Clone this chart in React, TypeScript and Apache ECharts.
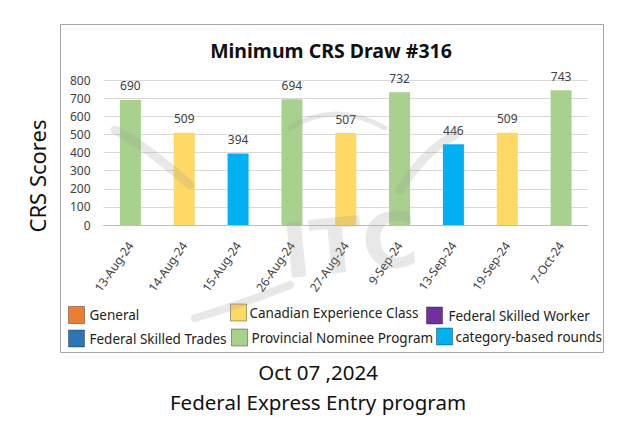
import React, { useEffect, useRef } from "react";
import * as echarts from "echarts";

const dates = ["13-Aug-24", "14-Aug-24", "15-Aug-24", "26-Aug-24", "27-Aug-24", "9-Sep-24", "13-Sep-24", "19-Sep-24", "7-Oct-24"];
const scores = [690, 509, 394, 694, 507, 732, 446, 509, 743];
const drawTypes = [
  "Provincial Nominee Program",
  "Canadian Experience Class",
  "category-based rounds",
  "Provincial Nominee Program",
  "Canadian Experience Class",
  "Provincial Nominee Program",
  "category-based rounds",
  "Canadian Experience Class",
  "Provincial Nominee Program",
];
const programs = [
  "General",
  "Canadian Experience Class",
  "Federal Skilled Worker",
  "Federal Skilled Trades",
  "Provincial Nominee Program",
  "category-based rounds",
];
const programColors = ["#ED7D31", "#FFD966", "#7030A0", "#2E75B6", "#A9D18E", "#00B0F0"];
const titleText = "Minimum CRS Draw #316";
const yName = "CRS Scores";
const footer1 = "Oct 07 ,2024";
const footer2 = "Federal Express Entry program";

const FONT = "'Noto Sans', 'Open Sans', sans-serif";
const WM = "rgba(150,150,150,0.22)";

export default function App() {
  const ref = useRef<HTMLDivElement>(null);
  useEffect(() => {
    if (!ref.current) return;
    const chart = echarts.init(ref.current, null, { renderer: "svg" });
    const series = programs.map((p, i) => ({
      type: "bar",
      name: p,
      stack: "all",
      barWidth: "39%",
      itemStyle: { color: programColors[i] },
      label: {
        show: true,
        position: "top",
        distance: 8,
        color: "#404040",
        fontSize: 12,
        fontFamily: FONT,
      },
      data: scores.map((v, j) => (drawTypes[j] === p ? v : "-")),
    }));
    const legendPos = [
      { left: 68, top: 306, gap: 5 },
      { left: 230, top: 303.5, gap: 3 },
      { left: 426, top: 306.5, gap: 6 },
      { left: 68, top: 329.5, gap: 5 },
      { left: 231, top: 328.5, gap: 4 },
      { left: 436, top: 327.5, gap: 3 },
    ];
    const legends = programs.map((p, i) => ({
      data: [p],
      left: legendPos[i].left,
      top: legendPos[i].top,
      padding: 0,
      itemWidth: 16,
      itemHeight: 17,
      itemGap: 0,
      selectedMode: false,
      icon: "rect",
      itemStyle: { borderColor: "rgba(0,0,0,0.35)", borderWidth: 1 },
      textStyle: { fontSize: 13.5, color: "#222", fontFamily: FONT, padding: [0, 0, 0, legendPos[i].gap - 5] },
    }));
    chart.setOption({
      animation: false,
      backgroundColor: "#ffffff",
      grid: { left: 103.5, right: 42, top: 80, bottom: 205 },
      legend: legends,
      xAxis: {
        type: "category",
        data: dates,
        axisLine: { lineStyle: { color: "#BFBFBF" } },
        axisTick: { show: false },
        axisLabel: { rotate: 55, fontSize: 12, color: "#404040", fontFamily: FONT, margin: 18, interval: 0 },
      },
      yAxis: {
        type: "value",
        min: 0,
        max: 800,
        interval: 100,
        axisLine: { show: false },
        axisTick: { show: false },
        axisLabel: { fontSize: 12, color: "#404040", fontFamily: FONT, margin: 13 },
        splitLine: { lineStyle: { color: "#D9D9D9" } },
      },
      series,
      graphic: [
        {
          type: "rect",
          shape: { x: 60.5, y: 24.5, width: 543, height: 328 },
          style: { fill: "none", stroke: "#A6A6A6", lineWidth: 1 },
          z: 0,
          silent: true,
        },
        {
          type: "text",
          x: 331,
          y: 50,
          style: { text: titleText, fontSize: 19.5, fontWeight: "bold", fill: "#111", fontFamily: FONT, align: "center", verticalAlign: "middle" },
        },
        {
          type: "text",
          x: 37,
          y: 176,
          rotation: Math.PI / 2,
          style: { text: yName, fontSize: 22, fill: "#111", fontFamily: FONT, align: "center", verticalAlign: "middle" },
        },
        {
          type: "text",
          x: 350,
          y: 245,
          rotation: 0.1,
          z: 100,
          silent: true,
          style: { text: "ITC", fontSize: 76, fontWeight: "bold", fill: WM, fontFamily: "'DejaVu Sans', sans-serif", align: "center", verticalAlign: "middle" },
        },
        {
          type: "bezierCurve",
          z: 100,
          silent: true,
          shape: { x1: 115, y1: 130, cpx1: 145, cpy1: 145, x2: 190, y2: 185 },
          style: { stroke: WM, lineWidth: 9, lineCap: "round", fill: "none" },
        },
        {
          type: "bezierCurve",
          z: 100,
          silent: true,
          shape: { x1: 455, y1: 135, cpx1: 425, cpy1: 150, x2: 400, y2: 190 },
          style: { stroke: WM, lineWidth: 9, lineCap: "round", fill: "none" },
        },
        {
          type: "bezierCurve",
          z: 100,
          silent: true,
          shape: { x1: 290, y1: 128, cpx1: 335, cpy1: 100, x2: 385, y2: 128 },
          style: { stroke: WM, lineWidth: 5, lineCap: "round", fill: "none" },
        },
        {
          type: "bezierCurve",
          z: 100,
          silent: true,
          shape: { x1: 195, y1: 318, cpx1: 240, cpy1: 305, x2: 290, y2: 285 },
          style: { stroke: WM, lineWidth: 8, lineCap: "round", fill: "none" },
        },
        {
          type: "text",
          x: 318,
          y: 372,
          style: { text: footer1, fontSize: 20.5, fill: "#111", fontFamily: FONT, align: "center", verticalAlign: "middle" },
        },
        {
          type: "text",
          x: 318,
          y: 402,
          style: { text: footer2, fontSize: 20.5, fill: "#111", fontFamily: FONT, align: "center", verticalAlign: "middle" },
        },
      ],
    });
    return () => chart.dispose();
  }, []);
  return <div ref={ref} style={{ position: "fixed", left: 0, top: 0, width: 630, height: 430 }} />;
}
